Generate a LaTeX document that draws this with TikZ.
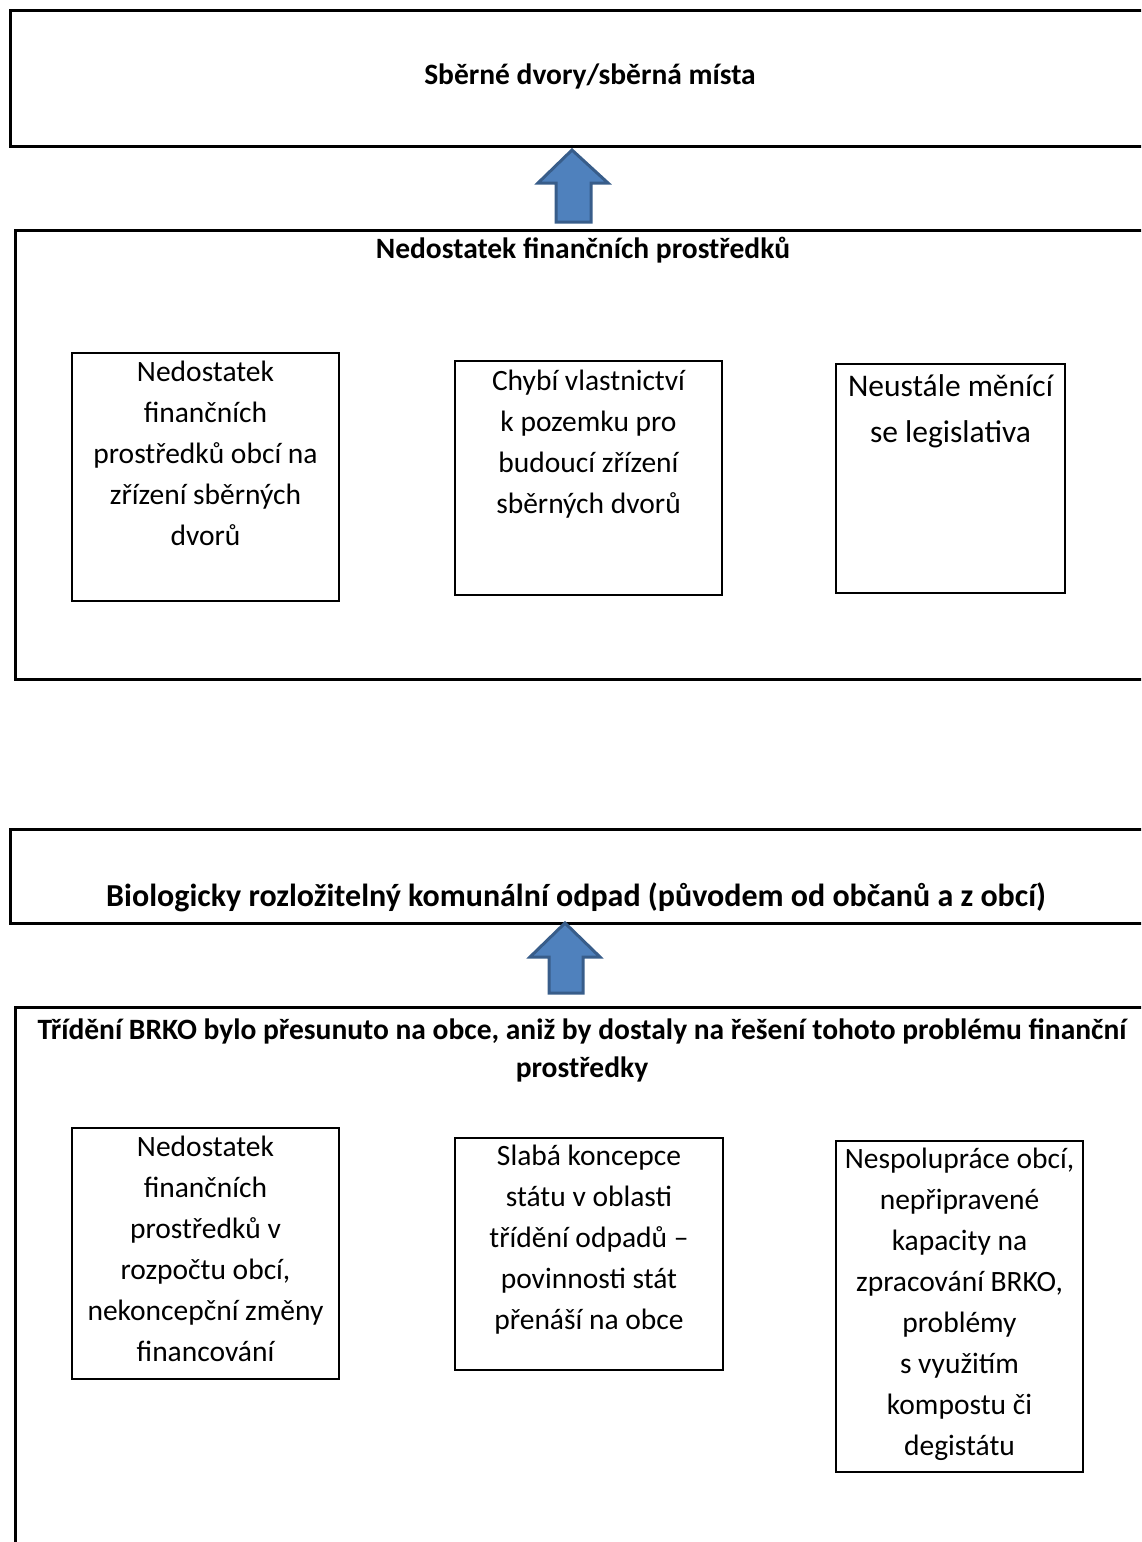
\documentclass[tikz,border=0pt]{standalone}
\usepackage{fontspec}
\setmainfont{Carlito}
\usetikzlibrary{positioning}

\definecolor{arrowfill}{HTML}{4F81BD}
\definecolor{arrowline}{HTML}{385D8A}

\tikzset{
    outerbox/.style={draw, line width=2.6pt, anchor=north west, inner sep=0pt},
    innerbox/.style={draw, line width=2pt, anchor=north west, inner sep=0pt},
    titletext/.style={font=\fontsize{29.5}{38}\selectfont\bfseries, align=center, inner sep=0pt},
    boxtext/.style={font=\fontsize{29.5}{41}\selectfont, align=center, inner sep=0pt, anchor=north},
    bigtext/.style={font=\fontsize{31.5}{46}\selectfont, align=center, inner sep=0pt, anchor=north},
    blockarrow/.style={fill=arrowfill, draw=arrowline, line width=3pt, line join=miter}
}

\begin{document}
\begin{tikzpicture}[x=1pt, y=-1pt]

    \useasboundingbox (0,0) rectangle (1141,1542);
    \clip (0,0) rectangle (1141,1542);

    %------------------------------------------------
    % Upper part
    %------------------------------------------------

    \node[outerbox, minimum width=1151pt, minimum height=136pt]
        (sberne) at (9,9) {};
    \node[titletext] (sbernetitle) at (590,76)
        {Sběrné dvory/sběrná místa};

    \node[outerbox, minimum width=1146pt, minimum height=449pt]
        (financni) at (14,229) {};
    \node[titletext] (financnititle) at (583,250)
        {Nedostatek finančních prostředků};

    \node[innerbox, minimum width=267pt, minimum height=248pt]
        (obce) at (71,352) {};
    \node[boxtext, below=9pt of obce.north] (obcetext)
        {Nedostatek\\finančních\\prostředků obcí na\\zřízení sběrných\\dvorů};

    \node[innerbox, minimum width=267pt, minimum height=234pt]
        (pozemek) at (454,360) {};
    \node[boxtext, below=10pt of pozemek.north] (pozemektext)
        {Chybí vlastnictví\\k pozemku pro\\budoucí zřízení\\sběrných dvorů};

    \node[innerbox, minimum width=229pt, minimum height=229pt]
        (legislativa) at (835,363) {};
    \node[bigtext, below=11pt of legislativa.north] (legislativatext)
        {Neustále měnící\\se legislativa};

    % block arrow
    \draw[blockarrow]
        (556,222) -- (556,183) -- (538,183) -- (572,150)
        -- (608,183) -- (591,183) -- (591,222) -- cycle;

    %------------------------------------------------
    % Lower part
    %------------------------------------------------

    \node[outerbox, minimum width=1151pt, minimum height=94pt]
        (brko) at (9,828) {};
    \node[titletext, font=\fontsize{32}{38}\selectfont\bfseries] (brkotitle) at (576,897)
        {Biologicky rozložitelný komunální odpad (původem od občanů a z obcí)};

    \node[outerbox, minimum width=1146pt, minimum height=560pt]
        (trideni) at (14,1006) {};
    \node[titletext, anchor=north] (trideniline) at (582,1019)
        {Třídění BRKO bylo přesunuto na obce, aniž by dostaly na řešení tohoto problému finanční\\prostředky};

    \node[innerbox, minimum width=267pt, minimum height=251pt]
        (rozpocet) at (71,1127) {};
    \node[boxtext, below=9pt of rozpocet.north] (rozpocettext)
        {Nedostatek\\finančních\\prostředků v\\rozpočtu obcí,\\nekoncepční změny\\financování};

    \node[innerbox, minimum width=268pt, minimum height=232pt]
        (koncepce) at (454,1137) {};
    \node[boxtext, below=8pt of koncepce.north] (koncepcetext)
        {Slabá koncepce\\státu v oblasti\\třídění odpadů –\\povinnosti stát\\přenáší na obce};

    \node[innerbox, minimum width=247pt, minimum height=331pt]
        (spoluprace) at (835,1140) {};
    \node[boxtext, below=8pt of spoluprace.north] (spolupracetext)
        {Nespolupráce obcí,\\nepřipravené\\kapacity na\\zpracování BRKO,\\problémy\\s využitím\\kompostu či\\degistátu};

    % block arrow
    \draw[blockarrow]
        (549,993) -- (549,957) -- (530,957) -- (565,923)
        -- (600,957) -- (583,957) -- (583,993) -- cycle;

\end{tikzpicture}
\end{document}
